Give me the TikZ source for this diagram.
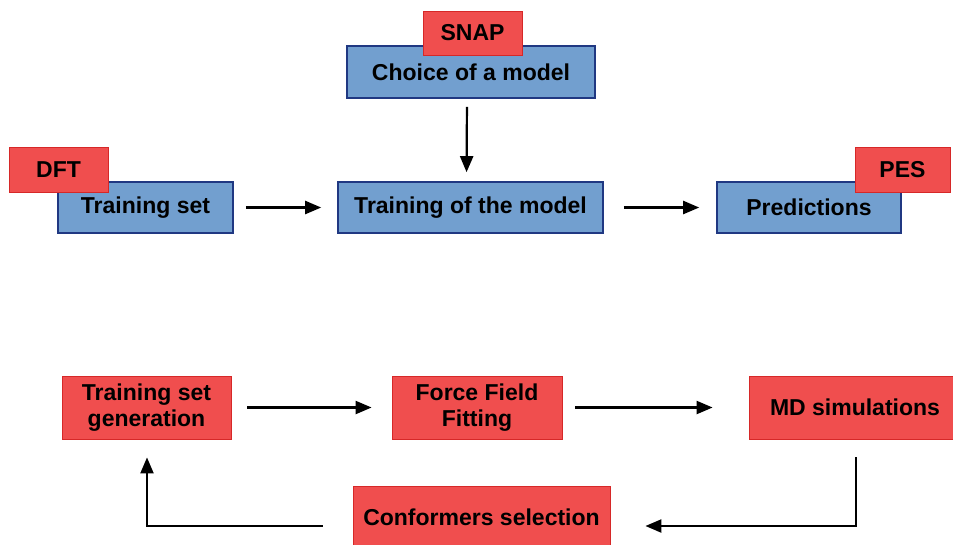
\documentclass[tikz,border=0pt]{standalone}
\usepackage{fontspec}
\setmainfont{Liberation Sans}
\usetikzlibrary{arrows.meta}

\definecolor{boxblue}{RGB}{114,159,207}
\definecolor{boxblueline}{RGB}{32,56,130}
\definecolor{boxred}{RGB}{240,78,78}
\definecolor{boxredline}{RGB}{214,40,40}

\tikzset{
  blockblue/.style={rectangle, fill=boxblue, draw=boxblueline, line width=1.6pt,
    inner sep=0pt, font=\fontsize{23}{26}\selectfont\bfseries, align=center},
  blockred/.style={rectangle, fill=boxred, draw=boxredline, line width=0.8pt,
    inner sep=0pt, font=\fontsize{23}{26}\selectfont\bfseries, align=center},
  flow/.style={-{Triangle[length=16pt,width=13pt]}, line width=2.2pt},
}

\begin{document}
\begin{tikzpicture}[x=1pt, y=-1pt]
\useasboundingbox (0,0) rectangle (953,544);

% ===== top row: model workflow =====
\node[blockblue, minimum width=248, minimum height=52] (choice) at (471,72) {Choice of a model};
\node[blockred, minimum width=99, minimum height=44] (snap) at (472.5,33) {SNAP};

\node[blockblue, minimum width=175, minimum height=51] (tset) at (145.5,207.5) {Training set};
\node[blockred, minimum width=99, minimum height=45] (dft) at (58.5,169.5) {DFT};

\node[blockblue, minimum width=265, minimum height=51] (train) at (470.5,207.5) {Training of the model};

\node[blockblue, minimum width=184, minimum height=51] (pred) at (809,207.5) {Predictions};
\node[blockred, minimum width=95, minimum height=45] (pes) at (902.5,169.5) {PES};

\draw[flow, shorten <=8pt, shorten >=9pt] ([xshift=-4pt]choice.south) -- ([xshift=-4pt]train.north);
\draw[flow, shorten <=12pt, shorten >=16pt] (tset) -- (train);
\draw[flow, shorten <=20pt, shorten >=17pt] (train) -- (pred);

% ===== bottom row: force field loop =====
\node[blockred, minimum width=169, minimum height=63] (gen) at (146.5,407.5) {Training set\\generation};
\node[blockred, minimum width=170, minimum height=63] (fff) at (477,407.5) {Force Field\\Fitting};
\node[blockred, minimum width=212, minimum height=63] (md) at (855,407.5) {MD simulations};
\node[blockred, minimum width=257, minimum height=63] (conf) at (481.5,517.5) {Conformers selection};

\coordinate (mdcorner) at (856,526);
\coordinate (gencorner) at (147,526);

\draw[flow, shorten <=16pt, shorten >=20pt] (gen) -- (fff);
\draw[flow, shorten <=13pt, shorten >=36pt] (fff) -- (md);
\draw[flow, shorten <=18pt] (md.south -| mdcorner) -- (mdcorner) -- ([xshift=35pt]conf.east |- mdcorner);
\draw[flow, shorten >=18pt] ([xshift=-30pt]conf.west |- gencorner) -- (gencorner) -- (gencorner |- gen.south);
\end{tikzpicture}
\end{document}
